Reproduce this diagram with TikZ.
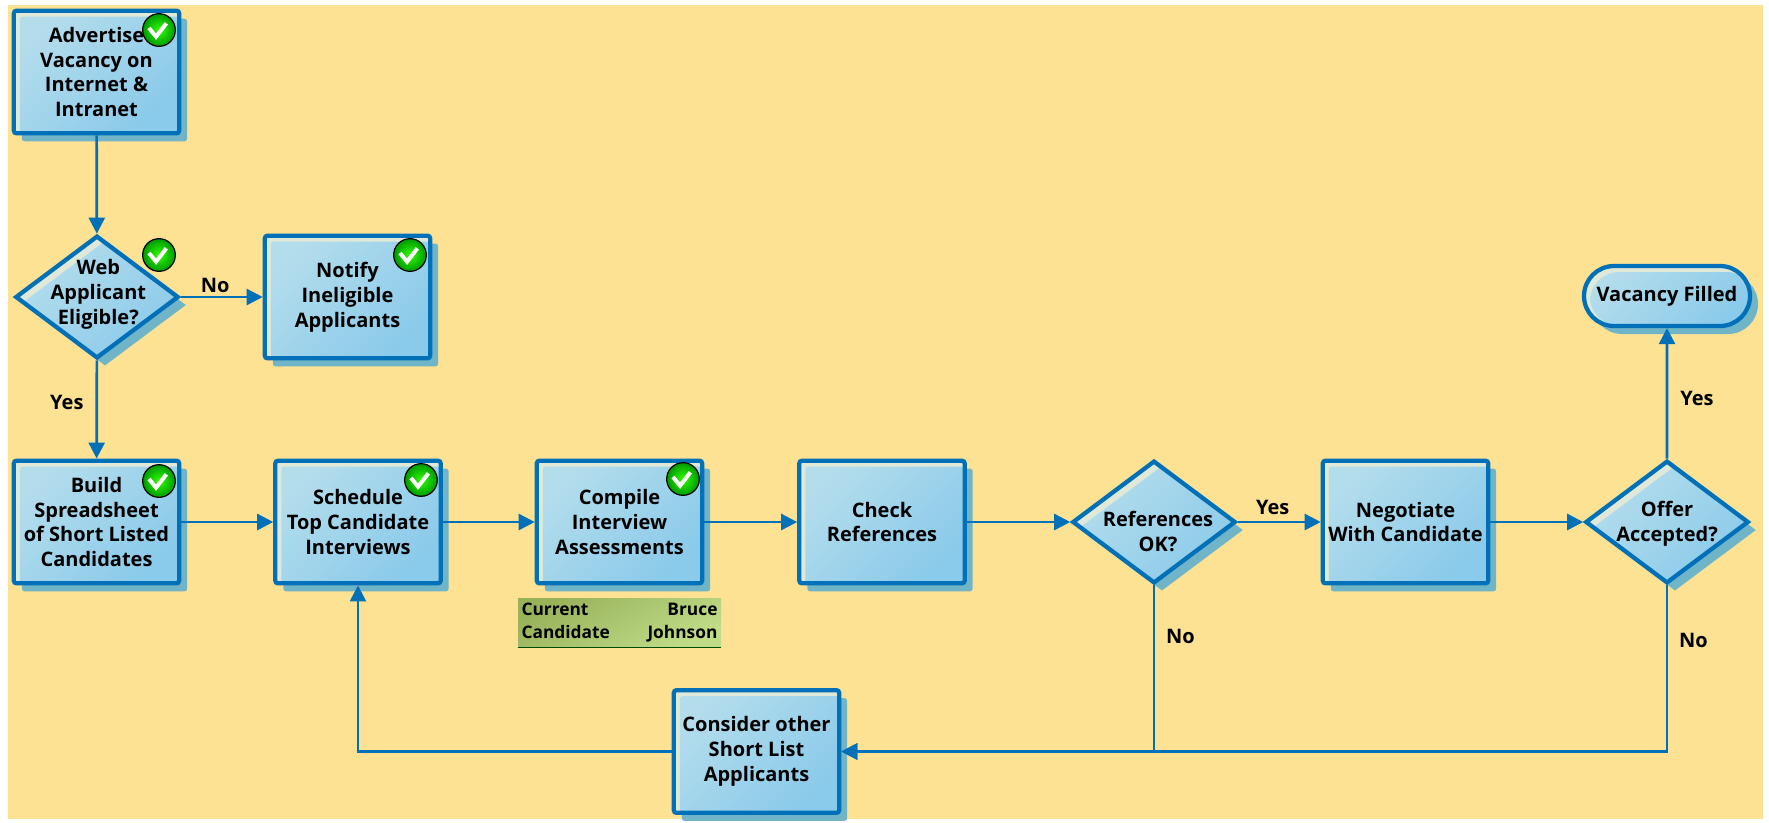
\documentclass[tikz,border=0pt]{standalone}
\usepackage{fontspec}
\setmainfont{Open Sans}
\usetikzlibrary{arrows.meta,shapes.geometric,shapes.misc,shadows}
\definecolor{bg}{HTML}{FEE293}
\definecolor{edge}{HTML}{0070B8}
\definecolor{pale}{HTML}{E0E8D8}
\definecolor{shad}{HTML}{70B4C8}
\definecolor{fillA}{HTML}{B4DDEC}
\definecolor{fillB}{HTML}{8ACAEA}
\definecolor{tabA}{HTML}{98B25A}
\definecolor{tabB}{HTML}{C0DC88}
\tikzset{
  x=0.75pt,y=-0.75pt,
  shapebase/.style={draw=edge,line width=3.2pt,fill=pale,
    general shadow={shadow xshift=6pt,shadow yshift=-6pt,fill=shad},
    font=\fontsize{15}{18.7}\selectfont\bfseries,align=center,inner sep=0pt},
  stepbox/.style={shapebase,rectangle,rounded corners=2pt,minimum width=124pt,minimum height=92pt,
    path picture={\shade[top color=fillA,bottom color=fillB,shading angle=45]
      ([xshift=4.5pt]path picture bounding box.south west) rectangle ([yshift=-4.5pt]path picture bounding box.north east);}},
  decide/.style={shapebase,diamond,aspect=1.33,minimum width=122.5pt,minimum height=92pt,
    path picture={\shade[top color=fillA,bottom color=fillB,shading angle=45]
      ([shift={(4.5pt,-4.5pt)}]path picture bounding box.west) -- ([shift={(4.5pt,-4.5pt)}]path picture bounding box.north) --
      ([shift={(4.5pt,-4.5pt)}]path picture bounding box.east) -- ([shift={(4.5pt,-4.5pt)}]path picture bounding box.south) -- cycle;}},
  terminal/.style={shapebase,rounded rectangle,minimum width=124.5pt,minimum height=45pt,
    path picture={\shade[top color=fillA,bottom color=fillB,shading angle=45,rounded corners=22pt]
      ([xshift=4.5pt]path picture bounding box.south west) rectangle ([xshift=4.5pt,yshift=-4.5pt]path picture bounding box.north east);}},
  flow/.style={draw=edge,line width=2pt,-{Triangle[length=12pt,width=12pt]}},
  edgelabel/.style={font=\fontsize{15}{18}\selectfont\bfseries,inner sep=0pt},
  difflabel/.style={align=center,font=\fontsize{15}{18.7}\selectfont\bfseries},
  tick/.style={circle,draw=black,line width=0.9pt,minimum size=24.5pt,inner sep=0pt,
    path picture={\shade[inner color=green!75!lime,outer color=green!60!black]
      (path picture bounding box.south west) rectangle (path picture bounding box.north east);
      \draw[white,line width=3pt]
      ([shift={(-7.5pt,1.5pt)}]path picture bounding box.center) --
      ([shift={(-2.2pt,-5pt)}]path picture bounding box.center) --
      ([shift={(5.5pt,5pt)}]path picture bounding box.center);}},
  infotab/.style={rectangle,top color=tabA,bottom color=tabB,shading angle=30,inner sep=0pt,minimum width=152.25pt,minimum height=36.75pt,
    text width=147pt,align=left,font=\fontsize{13}{17}\selectfont\bfseries},
}
\begin{document}
\begin{tikzpicture}
\path[use as bounding box,fill=white] (0,0) rectangle (1769,822);
\fill[bg] (8,5) rectangle (1763,819);

\node[stepbox] (adv) at (96.5,72) {Advertise\\Vacancy on\\Internet \&\\Intranet};
\node[decide,label={[difflabel,xshift=1pt,yshift=2pt]center:Web\\Applicant\\Eligible?}] (web) at (97,297) {};
\node[stepbox] (notify) at (347.5,297) {Notify\\Ineligible\\Applicants};
\node[stepbox] (build) at (96.5,522) {Build\\Spreadsheet\\of Short Listed\\Candidates};
\node[stepbox] (sched) at (358,522) {Schedule\\Top Candidate\\Interviews};
\node[stepbox] (comp) at (619.5,522) {Compile\\Interview\\Assessments};
\node[stepbox] (check) at (882,522) {Check\\References};
\node[decide,label={[difflabel,xshift=3pt,yshift=-7pt]center:References\\OK?}] (refs) at (1154,522) {};
\node[stepbox] (nego) at (1405.5,522) {Negotiate\\With Candidate};
\node[decide,label={[difflabel,yshift=-1.5pt]center:Offer\\Accepted?}] (offer) at (1667,522) {};
\node[terminal] (filled) at (1667,296) {Vacancy Filled};
\node[stepbox] (cons) at (756.5,751.5) {Consider other\\Short List\\Applicants};

\node[tick] (t1) at (159,30) {};
\node[tick] (t2) at (159,255) {};
\node[tick] (t3) at (410,255) {};
\node[tick] (t4) at (159,481) {};
\node[tick] (t5) at (421,480) {};
\node[tick] (t6) at (683,479) {};

\node[infotab] (cand) at (619.5,622.5) {Current\hfill Bruce\\Candidate\hfill Johnson};
\draw[black!50!green!60!black,line width=0.8pt] (cand.south west) -- (cand.south east);

\draw[flow] (adv) -- (web);
\draw[flow] (web) -- node[edgelabel,pos=0.42,above=2.5pt] (lno1) {No} (notify);
\draw[flow] (web) -- node[edgelabel,pos=0.43,left=9pt] (lyes1) {Yes} (build);
\draw[flow] (build) -- (sched);
\draw[flow] (sched) -- (comp);
\draw[flow] (comp) -- (check);
\draw[flow] (check) -- (refs);
\draw[flow] (refs) -- node[edgelabel,pos=0.42,above=4.5pt] (lyes2) {Yes} (nego);
\draw[flow] (nego) -- (offer);
\draw[flow] (offer) -- node[edgelabel,pos=0.46,right=9pt] (lyes3) {Yes} (filled);
\draw[flow] (refs.south) |- node[edgelabel,pos=0.155,right=8pt] (lno2) {No} (cons.east);
\draw[flow] (offer.south) |- node[edgelabel,pos=0.165,right=8pt] (lno3) {No} (cons.east);
\draw[flow] (cons.west) -| (sched.south);
\end{tikzpicture}
\end{document}
